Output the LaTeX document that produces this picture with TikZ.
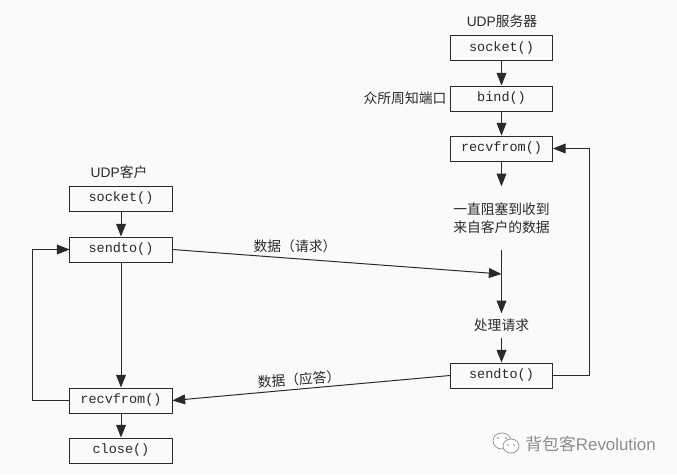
\documentclass[tikz,border=0pt]{standalone}
\usepackage{fontspec}
\setmainfont{Liberation Sans}
\setmonofont{Liberation Mono}
\newfontfamily\cjk{Noto Sans CJK SC}
\usetikzlibrary{arrows.meta}
\definecolor{paper}{HTML}{FAFAFA}
\definecolor{ink}{HTML}{2A2A2A}
\definecolor{wmgray}{HTML}{8C8C8C}
\tikzset{
  funcbox/.style={draw=ink, line width=0.7pt, fill=paper, minimum width=2.55cm, minimum height=0.625cm, inner sep=0pt, text=ink, font=\ttfamily\fontsize{9.6}{11}\selectfont},
  note/.style={inner sep=0pt, text=ink, font=\cjk\fontsize{9.8}{12.8}\selectfont, align=center},
  title/.style={inner sep=0pt, text=ink, font=\fontsize{9.8}{12}\selectfont},
  conn/.style={draw=ink, line width=0.7pt},
  arr/.style={conn, -{Triangle[length=9pt,width=7pt]}},
}
\begin{document}
\begin{tikzpicture}[x=0.025cm, y=-0.025cm]
      \fill [paper] (0,0) rectangle (677,474);
      \useasboundingbox (0,0) rectangle (677,474);
      % server
      \node [title] (stitle) at (502,21) {UDP{\cjk 服务器}};
      \node [funcbox] (ssock) at (501.5,48) {socket()};
      \node [funcbox] (sbind) at (501.5,98.5) {bind()};
      \node [funcbox] (srecv) at (501.5,148.5) {recvfrom()};
      \node [funcbox] (ssend) at (501.5,375.5) {sendto()};
      \node [note] (port) at (405,98) {众所周知端口};
      \node [note, minimum height=1.575cm] (block) at (501.5,218) {一直阻塞到收到\\来自客户的数据};
      \node [note, minimum height=0.6cm] (proc) at (501.5,325.5) {处理请求};
      \coordinate (join) at (501.5,274);
      \coordinate (sturn1) at (589,375.5);
      \coordinate (sturn2) at (589,148.5);
      % client
      \node [title] (ctitle) at (119,172) {UDP{\cjk 客户}};
      \node [funcbox] (csock) at (121,198.5) {socket()};
      \node [funcbox] (csend) at (121,249.5) {sendto()};
      \node [funcbox] (crecv) at (121,400.5) {recvfrom()};
      \node [funcbox] (cclose) at (121,450.5) {close()};
      \coordinate (cturn1) at (32,400.5);
      \coordinate (cturn2) at (32,249.5);
      % labels on the two messages
      \node [note] (req) at (295,246) {数据（请求）};
      \node [note, rotate=4] (rep) at (299,379) {数据（应答）};
      % watermark
      \fill [white, draw=wmgray, line width=0.5pt] (502,441) ellipse (9 and 8);
      \fill [white, draw=wmgray, line width=0.5pt] (511,446) ellipse (8 and 7);
      \fill [wmgray] (498,438) circle (1) (506,438) circle (1) (508,445) circle (0.9) (514,445) circle (0.9);
      \node [inner sep=0pt, text=wmgray, font=\fontsize{12}{14}\selectfont] (wm) at (590.5,444.5) {{\cjk 背包客}Revolution};
      % arrows
      \draw [arr] (ssock) -- (sbind);
      \draw [arr] (sbind) -- (srecv);
      \draw [arr] (srecv) -- (block);
      \draw [arr] (block) -- (proc);
      \draw [arr] (proc) -- (ssend);
      \draw [arr] (csock) -- (csend);
      \draw [arr] (csend) -- (crecv);
      \draw [arr] (crecv) -- (cclose);
      \draw [arr] (csend.east) -- (join);
      \draw [arr] (ssend.west) -- (crecv.east);
      \draw [arr] (ssend.east) -- (sturn1) -- (sturn2) -- (srecv.east);
      \draw [arr] (crecv.west) -- (cturn1) -- (cturn2) -- (csend.west);
    \end{tikzpicture}
\end{document}
